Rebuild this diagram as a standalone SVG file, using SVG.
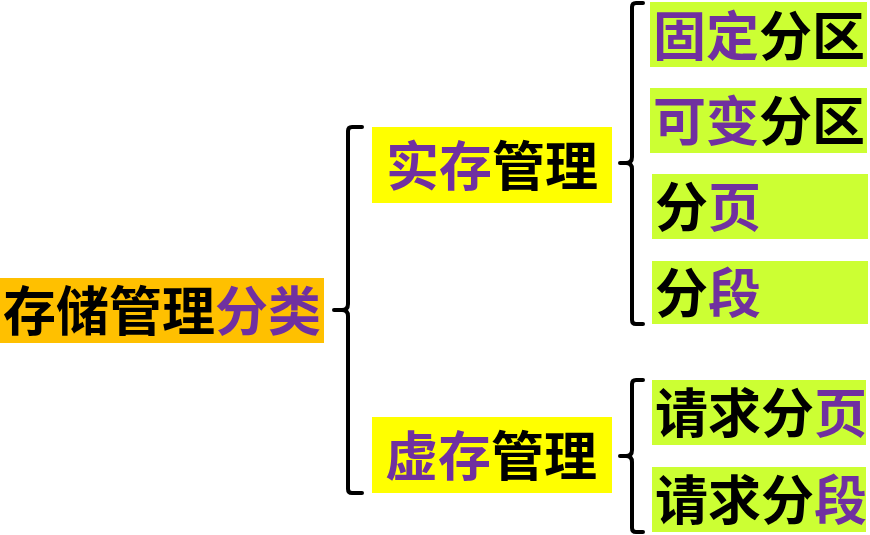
<svg xmlns="http://www.w3.org/2000/svg" width="870" height="535" viewBox="0 0 870 535">
<style>
text{font-family:"Noto Sans CJK SC","Noto Sans CJK TC",sans-serif;font-weight:bold;font-size:53px;dominant-baseline:central;fill:#000}
.p{fill:#7030A0}
.br{fill:none;stroke:#000;stroke-width:4;stroke-linecap:round;stroke-linejoin:round}
.g{fill:#CCFF33}
.y{fill:#FFFF00}
</style>
<rect width="870" height="535" fill="#fff"/>
<g id="connectors">
<path class="br" d="M362,127 L352,127 Q348,127 348,131 L348,304 Q348,310 342,310 L334,310 M342,310 Q348,310 348,316 L348,489 Q348,493 352,493 L362,493"/>
<path class="br" d="M643,3 L636,3 Q632,3 632,7 L632,157 Q632,163 626,163 L620,163 M626,163 Q632,163 632,169 L632,320 Q632,324 636,324 L643,324"/>
<path class="br" d="M643,380 L636,380 Q632,380 632,384 L632,450 Q632,456 626,456 L620,456 M626,456 Q632,456 632,462 L632,528 Q632,532 636,532 L643,532"/>
</g>
<g id="root">
<rect x="0" y="278" width="324" height="65" fill="#FFC000"/>
<text x="3" y="308">存储管理<tspan class="p">分类</tspan></text>
</g>
<g id="real">
<rect class="y" x="372" y="127" width="240" height="76"/>
<text x="386" y="163"><tspan class="p">实存</tspan>管理</text>
</g>
<g id="virtual">
<rect class="y" x="372" y="417" width="240" height="76"/>
<text x="385" y="453"><tspan class="p">虚存</tspan>管理</text>
</g>
<g id="fixed">
<rect class="g" x="650" y="2" width="217" height="65"/>
<text x="653" y="33"><tspan class="p">固定</tspan>分区</text>
</g>
<g id="variable">
<rect class="g" x="650" y="88" width="217" height="65"/>
<text x="653" y="118"><tspan class="p">可变</tspan>分区</text>
</g>
<g id="paging">
<rect class="g" x="652" y="174" width="216" height="65"/>
<text x="655" y="204">分<tspan class="p">页</tspan></text>
</g>
<g id="segment">
<rect class="g" x="652" y="261" width="216" height="63"/>
<text x="655" y="290">分<tspan class="p">段</tspan></text>
</g>
<g id="demand-paging">
<rect class="g" x="652" y="380" width="214" height="65"/>
<text x="655" y="410">请求分<tspan class="p">页</tspan></text>
</g>
<g id="demand-segment">
<rect class="g" x="652" y="467" width="214" height="65"/>
<text x="655" y="497">请求分<tspan class="p">段</tspan></text>
</g>
</svg>
